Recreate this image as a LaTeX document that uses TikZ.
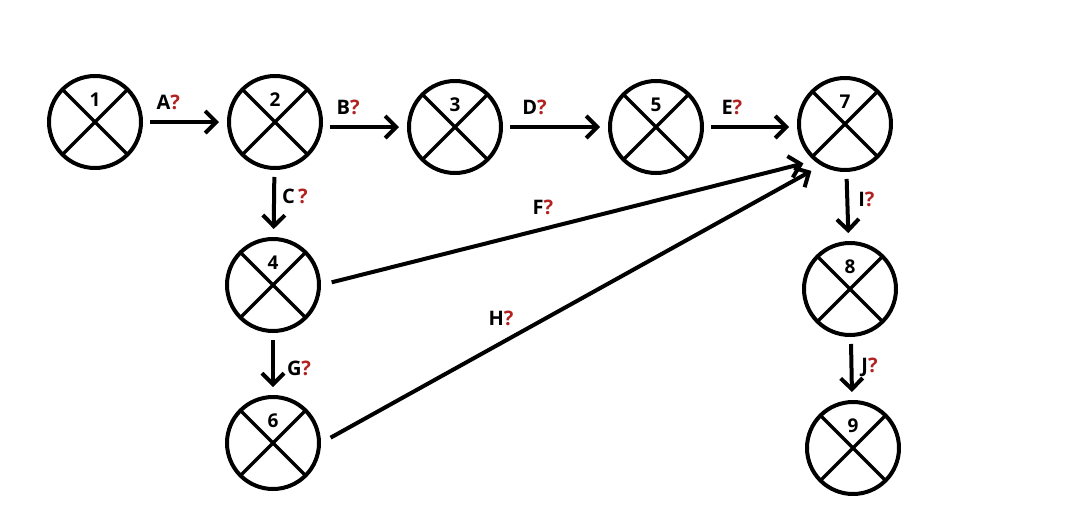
\documentclass[tikz,border=0pt]{standalone}
\usepackage{fontspec}
\setmainfont{Open Sans}
\usetikzlibrary{arrows.meta}
\definecolor{qred}{RGB}{178,34,34}
\newcommand{\QQ}{\textcolor{qred}{?}}

\begin{document}
\begin{tikzpicture}[x=1pt, y=-1pt,
  ev/.style={circle, draw, line width=4pt, minimum size=92pt, inner sep=0pt,
    path picture={\draw[line width=3.5pt]
      (path picture bounding box.north west) -- (path picture bounding box.south east)
      (path picture bounding box.north east) -- (path picture bounding box.south west);}},
  num/.style={font=\fontsize{19}{21}\selectfont\bfseries, yshift=22pt},
  arr/.style={-{Straight Barb[length=11pt,width=22pt]}, line width=4pt, shorten <=7pt, shorten >=8pt},
  lab/.style={font=\fontsize{20}{22}\selectfont\bfseries, inner sep=0pt}]

  \useasboundingbox (0,0) rectangle (1080,512);

  % events
  \node[ev, label={[num]center:1}] (n1) at (95,122) {};
  \node[ev, label={[num]center:2}] (n2) at (275,122) {};
  \node[ev, label={[num]center:3}] (n3) at (455,127) {};
  \node[ev, label={[num]center:5}] (n5) at (656,127) {};
  \node[ev, label={[num]center:7}] (n7) at (845,124) {};
  \node[ev, label={[num]center:4}] (n4) at (273,285) {};
  \node[ev, label={[num]center:6}] (n6) at (273,443) {};
  \node[ev, label={[num]center:8}] (n8) at (850,289) {};
  \node[ev, label={[num]center:9}] (n9) at (853,448) {};

  % activities
  \draw[arr] (n1) -- node[lab, above=10pt, pos=0.3]{A\QQ} (n2); % 1->2
  \draw[arr] (n2.east |- n3) -- node[lab, above=10pt, pos=0.3]{B\QQ} (n3); % 2->3
  \draw[arr] (n3) -- node[lab, above=10pt, pos=0.3]{D\QQ} (n5); % 3->5
  \draw[arr] (n5) -- node[lab, above=10pt, pos=0.3]{E\QQ} (n7.west |- n5); % 5->7
  \draw[arr] (n2) -- node[lab, right=6pt, pos=0.4]{C\,\QQ} (n4); % 2->4
  \draw[arr] (n4) -- node[lab, right=12pt, pos=0.57]{G\QQ} (n6); % 4->6
  \draw[arr] (n7) -- node[lab, right=9pt, pos=0.4]{I\QQ} (n8); % 7->8
  \draw[arr] (n8) -- node[lab, right=8pt, pos=0.48]{J\QQ} (n9); % 8->9

  \draw[arr, shorten <=11pt, shorten >=11pt] (n4.east) -- node[lab, above=12pt, pos=0.45]{F\QQ} (n7.230); % 4->7
  \draw[arr, shorten <=11pt, shorten >=11pt] (n6.east) -- node[lab, above=15pt, pos=0.36]{H\QQ} (n7.240); % 6->7

\end{tikzpicture}
\end{document}
